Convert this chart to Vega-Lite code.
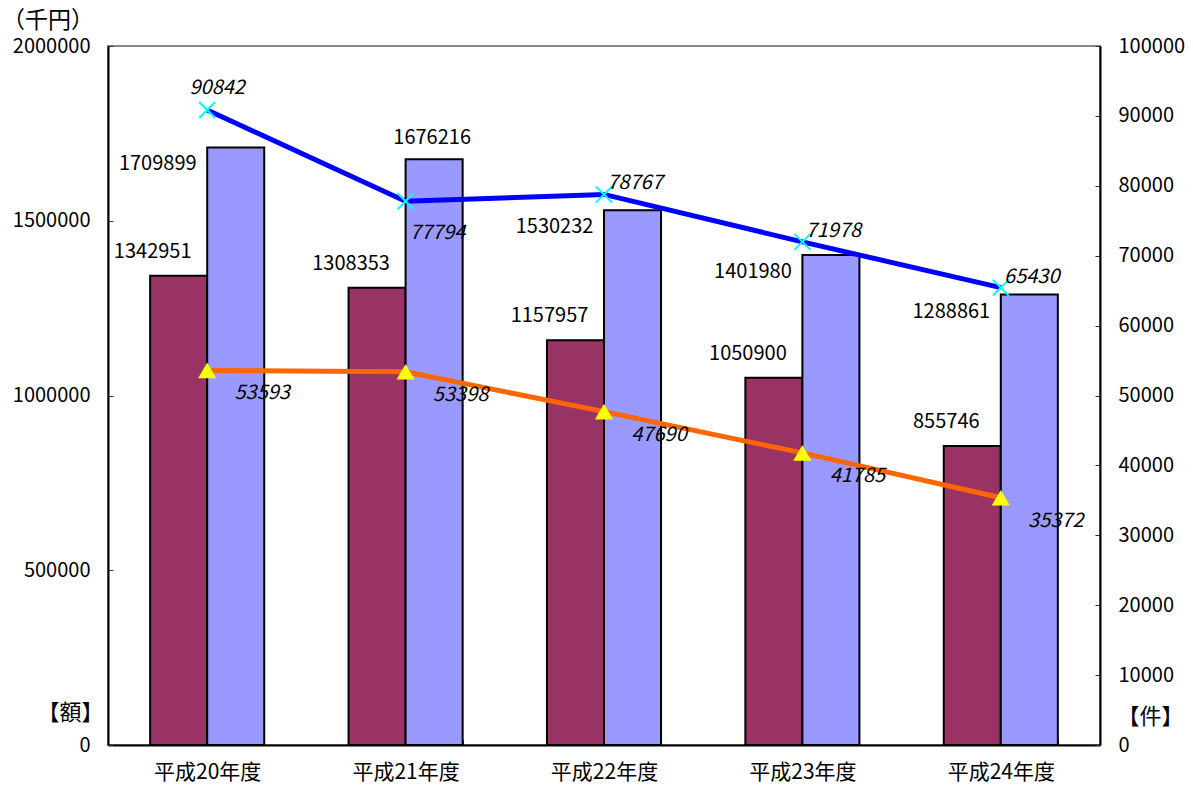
{
  "$schema": "https://vega.github.io/schema/vega-lite/v6.json",
  "width": 992,
  "height": 699,
  "autosize": {"type": "none"},
  "padding": {"left": 108, "top": 46, "right": 93, "bottom": 40},
  "background": "white",
  "title": {"text": "（千円）", "anchor": "start", "frame": "group", "dx": -106, "offset": 3, "fontSize": 23, "fontWeight": "normal", "font": "Noto Sans CJK JP", "color": "black"},
  "config": {
    "view": {"stroke": "#888888", "strokeWidth": 2},
    "axis": {"labelFont": "Noto Sans CJK JP", "labelFontSize": 20, "labelColor": "black", "domainColor": "black", "domainWidth": 2, "tickColor": "#333333", "tickWidth": 1, "tickSize": -5, "grid": false, "titleFont": "Noto Sans CJK JP", "titleFontWeight": "normal", "titleColor": "black", "titleFontSize": 22},
    "axisX": {"title": null, "labelAngle": 0, "tickBand": "extent", "labelPadding": 21, "labelFontSize": 21}
  },
  "datasets": {
    "amounts": [
      {"year": "平成20年度", "series": "A", "amount": 1342951},
      {"year": "平成20年度", "series": "B", "amount": 1709899},
      {"year": "平成21年度", "series": "A", "amount": 1308353},
      {"year": "平成21年度", "series": "B", "amount": 1676216},
      {"year": "平成22年度", "series": "A", "amount": 1157957},
      {"year": "平成22年度", "series": "B", "amount": 1530232},
      {"year": "平成23年度", "series": "A", "amount": 1050900},
      {"year": "平成23年度", "series": "B", "amount": 1401980},
      {"year": "平成24年度", "series": "A", "amount": 855746},
      {"year": "平成24年度", "series": "B", "amount": 1288861}
    ],
    "counts": [
      {"year": "平成20年度", "series": "C", "count": 90842},
      {"year": "平成21年度", "series": "C", "count": 77794},
      {"year": "平成22年度", "series": "C", "count": 78767},
      {"year": "平成23年度", "series": "C", "count": 71978},
      {"year": "平成24年度", "series": "C", "count": 65430},
      {"year": "平成20年度", "series": "D", "count": 53593},
      {"year": "平成21年度", "series": "D", "count": 53398},
      {"year": "平成22年度", "series": "D", "count": 47690},
      {"year": "平成23年度", "series": "D", "count": 41785},
      {"year": "平成24年度", "series": "D", "count": 35372}
    ]
  },
  "layer": [
    {
      "data": {"name": "amounts"},
      "layer": [
        {
          "mark": {"type": "bar", "stroke": "black", "strokeWidth": 2},
          "encoding": {
            "x": {"field": "year", "type": "nominal", "sort": null, "scale": {"paddingInner": 0.425, "paddingOuter": 0.2125}},
            "xOffset": {"field": "series", "type": "nominal", "scale": {"paddingInner": 0, "paddingOuter": 0}},
            "y": {"field": "amount", "type": "quantitative", "scale": {"domain": [0, 2000000], "nice": false}, "axis": {"orient": "left", "values": [0, 500000, 1000000, 1500000, 2000000], "format": "d", "labelPadding": 23, "title": "【額】", "titleAngle": 0, "titleX": -38, "titleY": 666, "titleAlign": "center", "titleBaseline": "middle"}},
            "color": {"field": "series", "type": "nominal", "scale": {"domain": ["A", "B"], "range": ["#993366", "#9999FF"]}, "legend": null}
          }
        },
        {
          "transform": [{"filter": "datum.series == 'A'"}],
          "mark": {"type": "text", "dx": -26, "dy": -24, "baseline": "middle", "align": "center", "font": "Noto Sans CJK JP", "fontSize": 20, "color": "black"},
          "encoding": {
            "x": {"field": "year", "type": "nominal", "sort": null},
            "xOffset": {"field": "series", "type": "nominal"},
            "y": {"field": "amount", "type": "quantitative"},
            "text": {"field": "amount", "type": "quantitative", "format": "d"}
          }
        },
        {
          "transform": [{"filter": "datum.series == 'B' && datum.year != '平成21年度'"}],
          "mark": {"type": "text", "dx": -78, "dy": 17, "baseline": "middle", "align": "center", "font": "Noto Sans CJK JP", "fontSize": 20, "color": "black"},
          "encoding": {
            "x": {"field": "year", "type": "nominal", "sort": null},
            "xOffset": {"field": "series", "type": "nominal"},
            "y": {"field": "amount", "type": "quantitative"},
            "text": {"field": "amount", "type": "quantitative", "format": "d"}
          }
        },
        {
          "transform": [{"filter": "datum.series == 'B' && datum.year == '平成21年度'"}],
          "mark": {"type": "text", "dx": -2, "dy": -21, "baseline": "middle", "align": "center", "font": "Noto Sans CJK JP", "fontSize": 20, "color": "black"},
          "encoding": {
            "x": {"field": "year", "type": "nominal", "sort": null},
            "xOffset": {"field": "series", "type": "nominal"},
            "y": {"field": "amount", "type": "quantitative"},
            "text": {"field": "amount", "type": "quantitative", "format": "d"}
          }
        }
      ]
    },
    {
      "data": {"name": "counts"},
      "layer": [
        {
          "mark": {"type": "line", "color": "#0000FF", "strokeWidth": 5},
          "transform": [{"filter": "datum.series == 'C'"}],
          "encoding": {
            "x": {"field": "year", "type": "nominal", "sort": null},
            "y": {"field": "count", "type": "quantitative", "scale": {"domain": [0, 100000], "nice": false}, "axis": {"orient": "right", "values": [0, 10000, 20000, 30000, 40000, 50000, 60000, 70000, 80000, 90000, 100000], "format": "d", "labelPadding": 23, "labelAlign": "left", "title": "【件】", "titleAngle": 0, "titleX": 50, "titleY": 670, "titleAlign": "center", "titleBaseline": "middle"}}
          }
        },
        {
          "mark": {"type": "line", "color": "#FF6600", "strokeWidth": 5},
          "transform": [{"filter": "datum.series == 'D'"}],
          "encoding": {
            "x": {"field": "year", "type": "nominal", "sort": null},
            "y": {"field": "count", "type": "quantitative"}
          }
        },
        {
          "mark": {"type": "point", "shape": "M-1,-1L1,1M-1,1L1,-1", "filled": false, "stroke": "#00FFFF", "strokeWidth": 2, "size": 256, "opacity": 1},
          "transform": [{"filter": "datum.series == 'C'"}],
          "encoding": {
            "x": {"field": "year", "type": "nominal", "sort": null},
            "y": {"field": "count", "type": "quantitative"}
          }
        },
        {
          "mark": {"type": "point", "shape": "triangle-up", "filled": true, "fill": "#FFFF00", "strokeWidth": 0, "size": 330, "opacity": 1},
          "transform": [{"filter": "datum.series == 'D'"}],
          "encoding": {
            "x": {"field": "year", "type": "nominal", "sort": null},
            "y": {"field": "count", "type": "quantitative"}
          }
        },
        {
          "transform": [{"filter": "datum.series == 'C' && datum.year == '平成20年度'"}],
          "mark": {"type": "text", "dx": 10, "dy": -22, "baseline": "middle", "align": "center", "font": "Noto Sans CJK JP", "fontSize": 20, "fontStyle": "italic", "color": "black"},
          "encoding": {
            "x": {"field": "year", "type": "nominal", "sort": null},
            "y": {"field": "count", "type": "quantitative"},
            "text": {"field": "count", "type": "quantitative", "format": "d"}
          }
        },
        {
          "transform": [{"filter": "datum.series == 'C' && datum.year == '平成21年度'"}],
          "mark": {"type": "text", "dx": 32, "dy": 32, "baseline": "middle", "align": "center", "font": "Noto Sans CJK JP", "fontSize": 20, "fontStyle": "italic", "color": "black"},
          "encoding": {
            "x": {"field": "year", "type": "nominal", "sort": null},
            "y": {"field": "count", "type": "quantitative"},
            "text": {"field": "count", "type": "quantitative", "format": "d"}
          }
        },
        {
          "transform": [{"filter": "datum.series == 'C' && datum.year != '平成20年度' && datum.year != '平成21年度'"}],
          "mark": {"type": "text", "dx": 31, "dy": -11, "baseline": "middle", "align": "center", "font": "Noto Sans CJK JP", "fontSize": 20, "fontStyle": "italic", "color": "black"},
          "encoding": {
            "x": {"field": "year", "type": "nominal", "sort": null},
            "y": {"field": "count", "type": "quantitative"},
            "text": {"field": "count", "type": "quantitative", "format": "d"}
          }
        },
        {
          "transform": [{"filter": "datum.series == 'D'"}],
          "mark": {"type": "text", "dx": 55, "dy": 23, "baseline": "middle", "align": "center", "font": "Noto Sans CJK JP", "fontSize": 20, "fontStyle": "italic", "color": "black"},
          "encoding": {
            "x": {"field": "year", "type": "nominal", "sort": null},
            "y": {"field": "count", "type": "quantitative"},
            "text": {"field": "count", "type": "quantitative", "format": "d"}
          }
        }
      ]
    }
  ],
  "resolve": {"scale": {"y": "independent"}}
}
